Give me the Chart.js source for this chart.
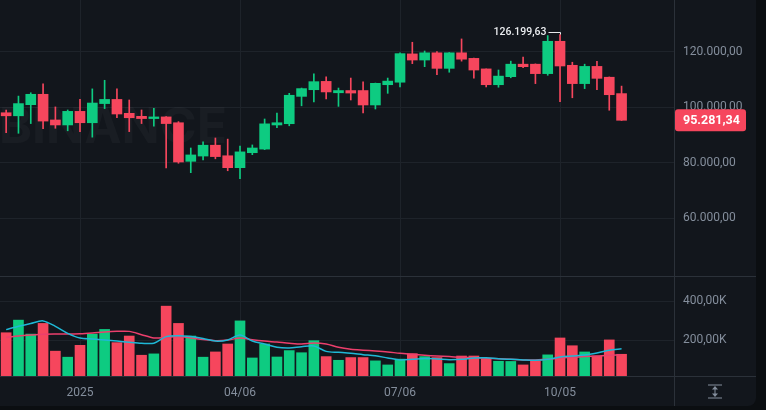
<!DOCTYPE html>
<html>
<head>
<meta charset="utf-8">
<script src="https://cdn.jsdelivr.net/npm/chart.js@4.4.0/dist/chart.umd.min.js"></script>
<style>
  html, body { margin: 0; padding: 0; background: #0b0e11; }
  #panel { position: absolute; left: 0; top: 0; width: 756px; height: 406px; background: #12161c; border-bottom-right-radius: 8px; overflow: hidden; }
  #price { position: absolute; left: 0; top: 0; }
  #volume { position: absolute; left: 0; top: 276px; }
</style>
</head>
<body>
<div id="panel">
  <canvas id="price" width="756" height="276"></canvas>
  <canvas id="volume" width="756" height="130"></canvas>
</div>
<script>
// weekly BTC candles, index 0 = first visible week
const opens  = [98000, 96900, 100900, 104650, 95400, 93600, 98500, 94400, 101300, 102800, 97800, 96700, 95900, 96500, 94400, 80500, 82400, 86300, 82500, 78200, 83600, 84900, 93600, 94050, 103900, 106300, 109300, 105200, 106000, 106000, 100800, 108100, 109000, 119200, 117000, 119600, 114000, 119600, 117600, 113800, 108100, 111000, 115500, 115500, 112100, 123750, 115100, 108500, 114700, 110800, 104900];
const highs  = [99000, 104000, 105200, 108400, 100100, 99000, 102800, 106600, 109700, 106600, 102600, 99000, 99600, 96600, 94800, 85300, 87500, 88900, 88500, 86000, 86400, 95750, 97900, 105000, 106900, 112000, 110900, 106900, 110500, 109100, 108700, 110500, 119600, 123400, 120250, 120000, 119700, 124600, 117700, 113800, 113400, 116600, 118100, 115600, 125800, 126199.63, 116200, 115500, 116500, 110900, 107600];
const lows   = [90800, 90600, 94100, 92300, 92400, 91500, 91200, 89200, 99500, 96200, 91200, 94100, 93200, 78100, 79800, 76400, 81000, 81400, 77100, 74200, 82900, 84700, 92600, 93300, 100500, 101900, 103000, 100300, 102600, 97900, 99350, 105000, 107300, 115700, 114600, 111700, 112600, 116600, 110500, 107300, 107200, 110600, 114200, 108500, 111500, 102000, 103400, 106700, 106300, 98900, 95200];
const closes = [96900, 101300, 104650, 95000, 93600, 98500, 94400, 101500, 102800, 97550, 96200, 95900, 96500, 94100, 80250, 82800, 86300, 82200, 78200, 83900, 85300, 94000, 94400, 104300, 106700, 109200, 105500, 106000, 105100, 100800, 108600, 109400, 119300, 117000, 119600, 114000, 119600, 117300, 113400, 108100, 111200, 115500, 114600, 112100, 123750, 114850, 108500, 114700, 110400, 104500, 95281.34];

const volumes = [239, 304, 232, 287, 144, 113, 174, 232, 256, 188, 222, 123, 130, 376, 287, 222, 113, 140, 181, 300, 109, 181, 114, 147, 136, 198, 116, 97, 111, 111, 94, 73, 103, 131, 116, 111, 80, 119, 119, 106, 92, 91, 73, 95, 125, 212, 172, 140, 119, 202, 128];
const volMaFast = [255, 272, 287, 300, 272, 236, 212, 207, 202, 196, 190, 185, 185, 219, 224, 219, 209, 196, 202, 227, 196, 181, 164, 160, 167, 171, 143, 138, 133, 126, 120, 109, 99, 102, 106, 104, 100, 102, 109, 110, 105, 102, 99, 97, 102, 114, 119, 124, 135, 149, 156];
const volMaSlow = [215, 222, 227, 231, 232, 232, 234, 238, 243, 246, 246, 229, 212, 215, 219, 212, 204, 198, 201, 212, 203, 196, 191, 185, 181, 186, 181, 164, 154, 149, 145, 140, 133, 128, 123, 119, 116, 112, 111, 108, 105, 102, 99, 99, 102, 109, 112, 116, 119, 123, 124];

const tickPos = [6, 19, 32, 45];
const tickLabels = ['2025', '04/06', '07/06', '10/05'];
const priceTicks = [60000, 80000, 100000, 120000];
const volTicks = [200000, 400000];

const UP = '#0ecb81', DOWN = '#f6465d';
const GRID = '#1e232a', SEP = '#2b3139', LABEL = '#848e9c';
Chart.defaults.font.family = 'Roboto';

const fmt = (v, dec) => {
  const parts = v.toFixed(dec).split('.');
  return parts[0].replace(/\B(?=(\d{3})+(?!\d))/g, '.') + (parts[1] ? ',' + parts[1] : '');
};
const candleColor = i => closes[i] >= opens[i] ? UP : DOWN;

const xScale = (extra) => Object.assign({
  type: 'linear', min: -0.5, max: 54.26, offset: false,
  afterBuildTicks: s => { s.ticks = tickPos.map(v => ({value: v})); },
  grid: {color: GRID, drawTicks: false, offset: false},
  border: {display: false}
}, extra);

const watermark = {
  id: 'watermark',
  beforeDatasetsDraw(chart) {
    const c = chart.ctx;
    c.save();
    c.font = 'bold 50px Inter';
    c.fillStyle = 'rgba(255,255,255,0.03)';
    c.textAlign = 'right';
    c.fillText('BINANCE', 227, 143);
    c.restore();
  }
};

const markers = {
  id: 'markers',
  afterDatasetsDraw(chart) {
    const c = chart.ctx, x = chart.scales.x, y = chart.scales.y;
    // highest high
    let hi = 0;
    highs.forEach((h, i) => { if (h > highs[hi]) hi = i; });
    const hx = Math.round(x.getPixelForValue(hi)) + 0.5, hy = y.getPixelForValue(highs[hi]);
    c.save();
    c.strokeStyle = '#eaecef'; c.lineWidth = 1;
    c.beginPath(); c.moveTo(hx - 12, hy - 2); c.lineTo(hx, hy - 2); c.lineTo(hx, hy); c.stroke();
    c.fillStyle = '#eaecef'; c.font = '500 10.5px Roboto';
    c.textAlign = 'right'; c.textBaseline = 'middle';
    c.fillText(fmt(highs[hi], 2), hx - 14, hy - 2);
    // last price tag
    const li = closes.length - 1, ly = y.getPixelForValue(closes[li]);
    const rx = chart.chartArea.right + 1;
    c.fillStyle = candleColor(li);
    c.beginPath(); c.roundRect(rx, ly - 11, 71, 22, 3); c.fill();
    c.fillStyle = '#ffffff'; c.font = 'bold 12.5px Roboto';
    c.textAlign = 'left';
    c.fillText(fmt(closes[li], 2), rx + 8, ly + 0.5);
    c.restore();
  }
};

new Chart(document.getElementById('price'), {
  type: 'bar',
  data: {
    datasets: [{
      data: opens.map((o, i) => ({x: i, y: [o, closes[i]]})),
      backgroundColor: ctx => candleColor(ctx.dataIndex),
      barThickness: 10, minBarLength: 1, grouped: false, order: 0
    }, {
      data: lows.map((l, i) => ({x: i, y: [l, highs[i]]})),
      backgroundColor: ctx => candleColor(ctx.dataIndex),
      barThickness: 1, grouped: false, order: 1
    }]
  },
  options: {
    responsive: false, animation: false,
    layout: {padding: 0},
    plugins: {legend: {display: false}, tooltip: {enabled: false}},
    scales: {
      x: xScale({ticks: {display: false}}),
      y: {
        position: 'right', min: 39170, max: 138630,
        afterBuildTicks: s => { s.ticks = priceTicks.map(v => ({value: v})); },
        afterFit: s => { s.width = 82; s.paddingTop = 0; s.paddingBottom = 0; },
        ticks: {color: LABEL, padding: 9, font: {size: 12}, callback: v => fmt(v, 2)},
        grid: {color: GRID, drawTicks: false},
        border: {color: SEP}
      }
    }
  },
  plugins: [watermark, markers]
});

const frame = {
  id: 'frame',
  afterDraw(chart) {
    const c = chart.ctx, a = chart.chartArea;
    c.save();
    c.strokeStyle = SEP; c.lineWidth = 1;
    c.beginPath();
    c.moveTo(0, 0.5); c.lineTo(chart.width, 0.5);
    c.moveTo(0, a.bottom + 0.5); c.lineTo(chart.width, a.bottom + 0.5);
    c.moveTo(a.right + 0.5, 0); c.lineTo(a.right + 0.5, chart.height);
    c.stroke();
    // scale reset icon
    const ix = 715, iy = 115.5;
    c.strokeStyle = LABEL; c.fillStyle = LABEL;
    c.beginPath();
    c.moveTo(ix - 7, iy - 6.5); c.lineTo(ix + 7, iy - 6.5);
    c.moveTo(ix - 7, iy + 6.5); c.lineTo(ix + 7, iy + 6.5);
    c.moveTo(ix, iy - 3); c.lineTo(ix, iy + 3);
    c.stroke();
    c.beginPath(); c.moveTo(ix - 3, iy - 2); c.lineTo(ix + 3, iy - 2); c.lineTo(ix, iy - 5.5); c.fill();
    c.beginPath(); c.moveTo(ix - 3, iy + 2); c.lineTo(ix + 3, iy + 2); c.lineTo(ix, iy + 5.5); c.fill();
    c.restore();
  }
};

new Chart(document.getElementById('volume'), {
  type: 'bar',
  data: {
    datasets: [{
      type: 'line',
      data: volMaFast.map((v, i) => ({x: i, y: v * 1000})),
      borderColor: '#1fb8d6', borderWidth: 1.5, pointRadius: 0, tension: 0.3, order: 0
    }, {
      type: 'line',
      data: volMaSlow.map((v, i) => ({x: i, y: v * 1000})),
      borderColor: '#ec3f6c', borderWidth: 1.5, pointRadius: 0, tension: 0.3, order: 0
    }, {
      data: volumes.map((v, i) => ({x: i, y: v * 1000})),
      backgroundColor: ctx => candleColor(ctx.dataIndex),
      barThickness: 10, grouped: false, order: 1
    }]
  },
  options: {
    responsive: false, animation: false,
    layout: {padding: 0},
    plugins: {legend: {display: false}, tooltip: {enabled: false}},
    scales: {
      x: xScale({
        afterFit: s => { s.height = 30; s.paddingLeft = 0; s.paddingRight = 0; },
        ticks: {color: LABEL, padding: 10, font: {size: 12}, maxRotation: 0, autoSkip: false,
                callback: (v, i) => tickLabels[i]}
      }),
      y: {
        position: 'right', min: 16000, max: 531400,
        afterBuildTicks: s => { s.ticks = volTicks.map(v => ({value: v})); },
        afterFit: s => { s.width = 82; s.paddingTop = 0; s.paddingBottom = 0; },
        ticks: {color: LABEL, padding: 9, font: {size: 12}, callback: v => fmt(v / 1000, 2) + 'K'},
        grid: {color: GRID, drawTicks: false},
        border: {color: SEP}
      }
    }
  },
  plugins: [frame]
});
</script>
</body>
</html>
